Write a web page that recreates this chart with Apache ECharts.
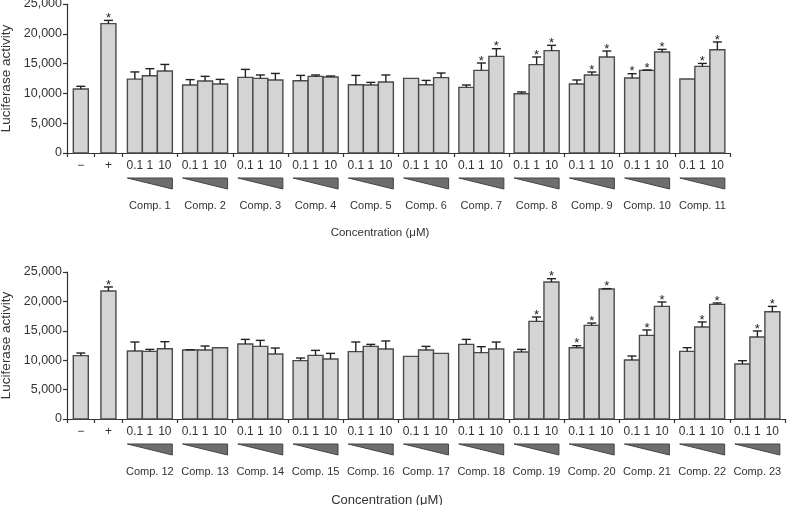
<!DOCTYPE html>
<html>
<head>
<meta charset="utf-8">
<script src="https://cdn.jsdelivr.net/npm/echarts@6/dist/echarts.min.js"></script>
<style>
html,body{margin:0;padding:0;background:#fff;}
#chart{width:787px;height:505px;}
</style>
</head>
<body>
<div id="chart"></div>
<script>
// ---------- data ----------
const controlLabels = ['\u2212', '+'];
const concLabels = ['0.1', '1', '10'];
const yTicks = [0, 5000, 10000, 15000, 20000, 25000];

const topGroups = ['Comp. 1','Comp. 2','Comp. 3','Comp. 4','Comp. 5','Comp. 6','Comp. 7','Comp. 8','Comp. 9','Comp. 10','Comp. 11'];
const topCtrlValues = [10740, 21700];
const topCtrlErrors = [450, 550];
const topCtrlSig = [0, 1];
const topValues = [
  12400, 12970, 13760,
  11410, 12080, 11580,
  12690, 12520, 12250,
  12130, 12850, 12740,
  11460, 11410, 11910,
  12520, 11460, 12640,
  11010, 13860, 16210,
  9950, 14820, 17170,
  11580, 13090, 16110,
  12580, 13860, 16950,
  12420, 14530, 17330
];
const topErrors = [
  1200, 1180, 1100,
  900, 780, 770,
  1340, 570, 1100,
  890, 240, 180,
  1560, 440, 1180,
  0, 720, 780,
  400, 1240, 1290,
  290, 1290, 890,
  670, 500, 1000,
  730, 70, 440,
  0, 500, 1300
];
const topSig = [
  0,0,0, 0,0,0, 0,0,0, 0,0,0, 0,0,0, 0,0,0,
  0,1,1, 0,1,1, 0,1,1, 1,1,1, 0,1,1
];

const bottomGroups = ['Comp. 12','Comp. 13','Comp. 14','Comp. 15','Comp. 16','Comp. 17','Comp. 18','Comp. 19','Comp. 20','Comp. 21','Comp. 22','Comp. 23'];
const bottomCtrlValues = [10770, 21770];
const bottomCtrlErrors = [450, 680];
const bottomCtrlSig = [0, 1];
const bottomValues = [
  11560, 11500, 11960,
  11730, 11730, 12130,
  12750, 12350, 11050,
  9920, 10820, 10200,
  11450, 12350, 11900,
  10650, 11730, 11160,
  12690, 11280, 11900,
  11390, 16600, 23300,
  12130, 15920, 22110,
  10030, 14220, 19150,
  11500, 15650, 19490,
  9350, 13950, 18250
];
const bottomErrors = [
  1530, 340, 1190,
  60, 680, 0,
  790, 1020, 1020,
  450, 850, 960,
  1640, 340, 1370,
  0, 620, 0,
  850, 1020, 1190,
  450, 750, 560,
  340, 400, 60,
  680, 920, 750,
  630, 850, 240,
  570, 1020, 900
];
const bottomSig = [
  0,0,0, 0,0,0, 0,0,0, 0,0,0, 0,0,0, 0,0,0, 0,0,0,
  0,1,1, 1,1,1, 0,1,1, 0,1,1, 0,1,1
];

// ---------- layout (axis units: control slot = 1.5, group = 3) ----------
const CTRL_SLOT = 1.5;
const GROUP_SLOT = 3;
const BAR_W = 0.814;
const FONT = '"Liberation Sans", Arial, Helvetica, sans-serif';

function barItems(ctrlV, ctrlE, ctrlS, vals, errs, sig) {
  const items = [];
  ctrlV.forEach((v, i) => items.push([CTRL_SLOT * (i + 0.5), v, ctrlE[i], ctrlS[i]]));
  vals.forEach((v, j) => {
    const g = Math.floor(j / 3), k = j % 3;
    const cx = 2 * CTRL_SLOT + g * GROUP_SLOT + GROUP_SLOT / 2 + (k - 1) * BAR_W;
    items.push([cx, v, errs[j], sig[j]]);
  });
  return items;
}
function slotItems(groups) {
  const items = [];
  controlLabels.forEach((l, i) => items.push([CTRL_SLOT * (i + 0.5), 0]));
  groups.forEach((gname, g) => items.push([2 * CTRL_SLOT + g * GROUP_SLOT + GROUP_SLOT / 2, 0]));
  return items;
}
function tickValues(groups) {
  const t = [0, CTRL_SLOT, 2 * CTRL_SLOT];
  groups.forEach((g, i) => t.push(2 * CTRL_SLOT + (i + 1) * GROUP_SLOT));
  return t;
}

function renderBar(params, api) {
  const x = api.value(0), v = api.value(1), e = api.value(2), s = api.value(3);
  const p0 = api.coord([x - BAR_W / 2, v]);
  const p1 = api.coord([x + BAR_W / 2, 0]);
  const cx = api.coord([x, v])[0];
  const children = [{
    type: 'rect',
    shape: { x: p0[0], y: p0[1], width: p1[0] - p0[0], height: p1[1] - p0[1] },
    style: { fill: '#d4d4d4', stroke: '#4a4a4a', lineWidth: 1.4 }
  }];
  let topY = p0[1];
  if (e > 0) {
    topY = api.coord([x, v + e])[1];
    children.push({ type: 'line', shape: { x1: cx, y1: p0[1], x2: cx, y2: topY }, style: { stroke: '#222', lineWidth: 1.4 } });
    children.push({ type: 'line', shape: { x1: cx - 4.5, y1: topY, x2: cx + 4.5, y2: topY }, style: { stroke: '#222', lineWidth: 1.4 } });
  }
  if (s) {
    children.push({ type: 'text', style: { text: '*', x: cx, y: topY - 2, textAlign: 'center', textVerticalAlign: 'middle', font: '13px ' + FONT, fill: '#222' } });
  }
  return { type: 'group', children: children };
}

function makeLabelRenderer(groups) {
  return function (params, api) {
    const i = params.dataIndex;
    const x = api.value(0);
    const base = api.coord([x, 0]);
    const children = [];
    if (i < controlLabels.length) {
      children.push({ type: 'text', style: { text: controlLabels[i], x: base[0], y: base[1] + 13, textAlign: 'center', textVerticalAlign: 'middle', font: '12px ' + FONT, fill: '#333' } });
    } else {
      const g = i - controlLabels.length;
      concLabels.forEach((c, k) => {
        const bx = api.coord([x + (k - 1) * BAR_W, 0])[0];
        children.push({ type: 'text', style: { text: c, x: bx, y: base[1] + 13, textAlign: 'center', textVerticalAlign: 'middle', font: '12px ' + FONT, fill: '#333' } });
      });
      const l = api.coord([x - 1.5 * BAR_W, 0])[0];
      const r = api.coord([x + 1.5 * BAR_W, 0])[0];
      children.push({ type: 'polygon', shape: { points: [[l, base[1] + 25], [r, base[1] + 25], [r, base[1] + 36]] }, style: { fill: '#6e6e6e', stroke: '#444', lineWidth: 1 } });
      children.push({ type: 'text', style: { text: groups[g], x: base[0], y: base[1] + 53, textAlign: 'center', textVerticalAlign: 'middle', font: '11px ' + FONT, fill: '#333' } });
    }
    return { type: 'group', children: children };
  };
}

const axisCommonY = {
  type: 'value', min: yTicks[0], max: yTicks[yTicks.length - 1], interval: yTicks[1] - yTicks[0],
  axisLine: { show: true, lineStyle: { color: '#333', width: 1.2 } },
  axisTick: { show: true, inside: false, length: 4, lineStyle: { color: '#333', width: 1.2 } },
  splitLine: { show: false },
  axisLabel: { fontFamily: FONT, fontSize: 12.5, color: '#333', margin: 5, formatter: v => v.toLocaleString('en-US') },
  name: 'Luciferase activity', nameLocation: 'middle', nameGap: 49, nameRotate: 90,
  nameTextStyle: { fontFamily: FONT, fontSize: 13.5, color: '#333' }
};

function xAxisFor(groups, idx, padRight, nameSize, gap) {
  const maxV = 2 * CTRL_SLOT + groups.length * GROUP_SLOT;
  return {
    type: 'value', gridIndex: idx, min: 0, max: maxV,
    axisLine: { show: true, onZero: false, lineStyle: { color: '#333', width: 1.2 } },
    axisTick: { show: true, inside: false, length: 4, customValues: tickValues(groups), lineStyle: { color: '#333', width: 1.2 } },
    axisLabel: { show: false },
    splitLine: { show: false },
    name: 'Concentration (\u03bcM)', nameLocation: 'middle', nameGap: gap,
    nameTextStyle: { fontFamily: FONT, fontSize: nameSize, color: '#333', padding: [0, padRight, 0, 0] }
  };
}

const chart = echarts.init(document.getElementById('chart'), null, { renderer: 'canvas' });
chart.setOption({
  backgroundColor: '#fff',
  animation: false,
  grid: [
    { left: 67, right: 57, top: 4, bottom: 352, containLabel: false, outerBoundsMode: 'none' },
    { left: 67, right: 2, top: 272, bottom: 86, containLabel: false, outerBoundsMode: 'none' }
  ],
  xAxis: [xAxisFor(topGroups, 0, 37, 11.5, 74), xAxisFor(bottomGroups, 1, 78, 13, 75)],
  yAxis: [Object.assign({ gridIndex: 0 }, axisCommonY), Object.assign({ gridIndex: 1 }, axisCommonY)],
  series: [
    { type: 'custom', xAxisIndex: 0, yAxisIndex: 0, clip: false, renderItem: renderBar,
      data: barItems(topCtrlValues, topCtrlErrors, topCtrlSig, topValues, topErrors, topSig) },
    { type: 'custom', xAxisIndex: 1, yAxisIndex: 1, clip: false, renderItem: renderBar,
      data: barItems(bottomCtrlValues, bottomCtrlErrors, bottomCtrlSig, bottomValues, bottomErrors, bottomSig) },
    { type: 'custom', xAxisIndex: 0, yAxisIndex: 0, clip: false, silent: true, renderItem: makeLabelRenderer(topGroups),
      data: slotItems(topGroups) },
    { type: 'custom', xAxisIndex: 1, yAxisIndex: 1, clip: false, silent: true, renderItem: makeLabelRenderer(bottomGroups),
      data: slotItems(bottomGroups) }
  ]
});
</script>
</body>
</html>
